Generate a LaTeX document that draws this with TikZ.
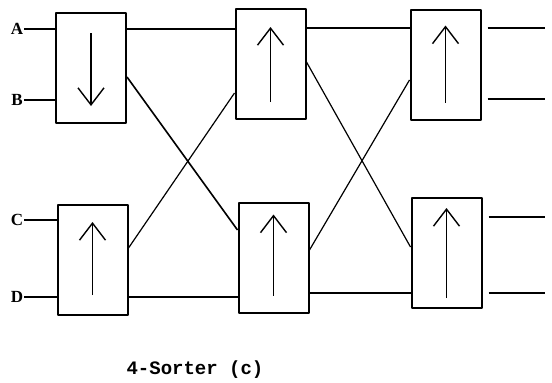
\documentclass[tikz,border=0pt]{standalone}
\usepackage{fontspec}
\setmainfont{Liberation Serif}
\setmonofont{Liberation Mono}
\usetikzlibrary{arrows.meta}

\begin{document}
\begin{tikzpicture}[x=1pt, y=-1pt, line join=round,
  sorter/.style={draw, line width=2pt, minimum width=70pt, minimum height=110pt, inner sep=0pt},
  wire/.style={line width=1.6pt},
  cross/.style={line width=1.2pt},
  dir/.style={line width=1.4pt, -{Straight Barb[length=17pt, width=26pt, line width=1.4pt]}},
  lbl/.style={font=\bfseries\fontsize{17}{19}\selectfont, inner sep=1pt}]
\useasboundingbox (0,0) rectangle (552,383);
\node[sorter] (s1) at (91,68) {};
\node[sorter] (s2) at (92.5,260) {};
\node[sorter] (s3) at (270.5,64) {};
\node[sorter] (s4) at (273.5,257.5) {};
\node[sorter] (s5) at (445.5,64.5) {};
\node[sorter] (s6) at (446.5,253) {};
\draw[dir] ([yshift=-21pt]s1.north) -- ([yshift=18pt]s1.south);
\draw[dir] ([yshift=21pt]s2.south) -- ([yshift=-18pt]s2.north);
\draw[dir] ([yshift=18pt]s3.south) -- ([yshift=-19pt]s3.north);
\draw[dir] ([yshift=18pt]s4.south) -- ([yshift=-13pt]s4.north);
\draw[dir] ([yshift=18pt]s5.south) -- ([yshift=-17pt]s5.north);
\draw[dir] ([yshift=11pt]s6.south) -- ([yshift=-11pt]s6.north);
\node[lbl] (la) at (17,29) {A};
\node[lbl] (lb) at (17,100) {B};
\node[lbl] (lc) at (17,220) {C};
\node[lbl] (ld) at (17,297) {D};
\coordinate (o1) at (545,28);
\coordinate (o2) at (545,99);
\coordinate (o3) at (545,217);
\coordinate (o4) at (545,293);
\draw[wire] (la) -- (s1.west |- la);
\draw[wire] (lb) -- (s1.west |- lb);
\draw[wire] (lc) -- (s2.west |- lc);
\draw[wire] (ld) -- (s2.west |- ld);
\draw[wire] (s1.east |- la) -- (s3.west |- la);
\draw[wire] ([yshift=-9pt]s1.east) -- ([yshift=27.5pt]s4.west);
\draw[cross] ([yshift=12pt]s2.east) -- ([yshift=-29pt]s3.west);
\draw[wire] (s2.east |- ld) -- (s4.west |- ld);
\draw[wire] (s3.east |- o1) -- (s5.west |- o1);
\draw[cross] ([yshift=2pt]s3.east) -- ([yshift=6pt]s6.west);
\draw[cross] ([yshift=7.5pt]s4.east) -- ([yshift=-15.5pt]s5.west);
\draw[wire] (s4.east |- o4) -- (s6.west |- o4);
\draw[wire, shorten <=6pt] (s5.east |- o1) -- (o1);
\draw[wire, shorten <=6pt] (s5.east |- o2) -- (o2);
\draw[wire, shorten <=6pt] (s6.east |- o3) -- (o3);
\draw[wire, shorten <=6pt] (s6.east |- o4) -- (o4);
\node[font=\ttfamily\bfseries\fontsize{19}{22}\selectfont] (cap) at (195,370) {4-Sorter (c)};
\end{tikzpicture}
\end{document}
